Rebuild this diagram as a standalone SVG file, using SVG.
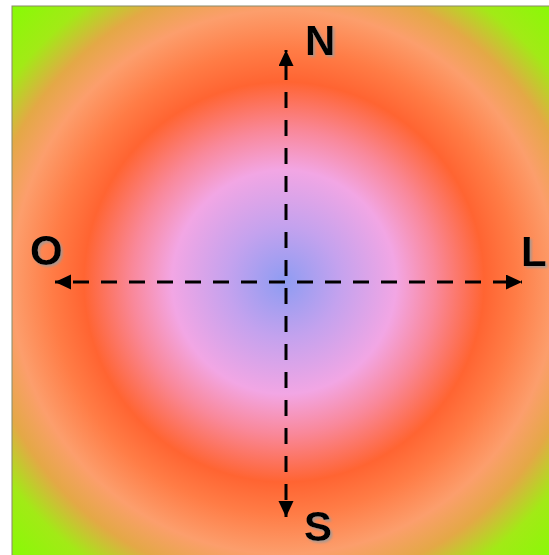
<svg xmlns="http://www.w3.org/2000/svg" width="549" height="555" viewBox="0 0 549 555">
<style>
.lbl{font-family:"Liberation Sans",Arial,sans-serif;font-weight:bold;font-size:42px;fill:#000;filter:url(#sh)}
.axis{stroke:#000;stroke-width:3;stroke-dasharray:16 12;fill:none;marker-start:url(#ah);marker-end:url(#ah)}
</style>
<defs>
<radialGradient id="bg" gradientUnits="userSpaceOnUse" cx="284" cy="282" r="400">
<stop offset="0" stop-color="#8e9cf2"/>
<stop offset="0.14" stop-color="#c4a2ee"/>
<stop offset="0.28" stop-color="#f2a6e4"/>
<stop offset="0.38" stop-color="#f9889a"/>
<stop offset="0.5" stop-color="#ff6432"/>
<stop offset="0.58" stop-color="#ff7c46"/>
<stop offset="0.68" stop-color="#fc9e6c"/>
<stop offset="0.76" stop-color="#e4a846"/>
<stop offset="0.85" stop-color="#a2ea16"/>
<stop offset="1" stop-color="#80ff00"/>
</radialGradient>
<filter id="sh" x="-30%" y="-30%" width="160%" height="160%">
<feDropShadow dx="2" dy="2" stdDeviation="1.2" flood-color="#999" flood-opacity="0.8"/>
</filter>
<marker id="ah" markerUnits="userSpaceOnUse" markerWidth="18" markerHeight="16" refX="16" refY="7.5" orient="auto-start-reverse">
<path d="M0,0 L16,7.5 L0,15 z" fill="#000"/>
</marker>
</defs>
<g id="background">
<rect x="12" y="6" width="540" height="552" fill="url(#bg)" stroke="#8a8a6a" stroke-width="1"/>
</g>
<g id="connectors">
<line class="axis" x1="286" y1="50" x2="286" y2="517" stroke-dashoffset="14"/>
<line class="axis" x1="55" y1="282" x2="522" y2="282" stroke-dashoffset="10"/>
</g>
<g id="label-N"><text class="lbl" x="305" y="55">N</text></g>
<g id="label-S"><text class="lbl" x="304" y="541">S</text></g>
<g id="label-O"><text class="lbl" x="30" y="265">O</text></g>
<g id="label-L"><text class="lbl" x="521" y="266">L</text></g>
</svg>
